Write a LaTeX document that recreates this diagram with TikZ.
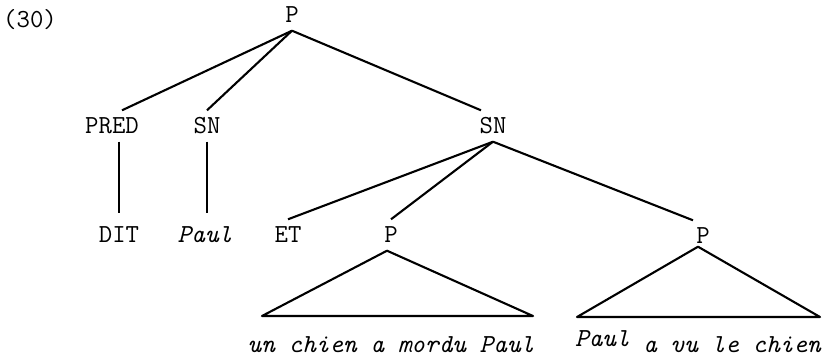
\documentclass[tikz,border=0pt]{standalone}
\usepackage{tikz}

\tikzset{
  cat/.style={font=\fontsize{26}{30}\selectfont\ttfamily, text height=15pt, text depth=0pt, inner sep=8pt},
  leaf/.style={font=\fontsize{26}{30}\selectfont\ttfamily\itshape, inner sep=0pt},
  branch/.style={line width=2.1pt}
}

\begin{document}
\begin{tikzpicture}[x=1pt,y=-1pt]
  \useasboundingbox (0,0) rectangle (826,358);

  % example number
  \node[cat] (num) at (30,20) {(30)};

  % top level
  \node[cat] (top) at (292,15) {P};
  \node[cat] (pred) at (112,126) {PRED};
  \node[cat] (sna) at (207,126) {SN};
  \node[cat] (snb) at (493,126) {SN};

  \draw[branch] (top.south) -- ([xshift=10pt]pred.north);
  \draw[branch] (top.south) -- (sna.north);
  \draw[branch] (top.south) -- ([xshift=-12pt]snb.north);

  % under PRED and the first SN
  \node[cat] (dit) at (119,235) {DIT};
  \node[cat,font=\fontsize{26}{30}\selectfont\ttfamily\itshape] (paul) at (205,235) {Paul};
  \draw[branch,shorten >=6pt] (pred.south -| dit.north) -- (dit.north);
  \draw[branch,shorten >=6pt] (sna.south) -- (sna.south |- paul.north);

  % conjoined sentences
  \node[cat] (et) at (288,235) {ET};
  \node[cat] (pa) at (391,235) {P};
  \node[cat] (pb) at (703,236) {P};
  \draw[branch] (snb.south) -- (et.north);
  \draw[branch] (snb.south) -- (pa.north);
  \draw[branch] (snb.south) -- ([xshift=-10pt]pb.north);

  % triangles over the unanalysed sentences
  \coordinate (pa-l) at (262,316);
  \coordinate (pa-r) at (533,316);
  \coordinate (pb-l) at (577,317);
  \coordinate (pb-r) at (820,317);
  \draw[branch,line join=round] ([xshift=-4pt]pa.south) -- (pa-l) -- (pa-r) -- cycle;
  \draw[branch,line join=round] ([xshift=-5pt,yshift=5pt]pb.south) -- (pb-l) -- (pb-r) -- cycle;

  \node[leaf,anchor=base] (sa) at (391,352) {un chien a mordu Paul};
  \node[leaf,anchor=base] (sb) at (698,352) {\raisebox{6pt}{Paul} a vu le chien};
\end{tikzpicture}
\end{document}
